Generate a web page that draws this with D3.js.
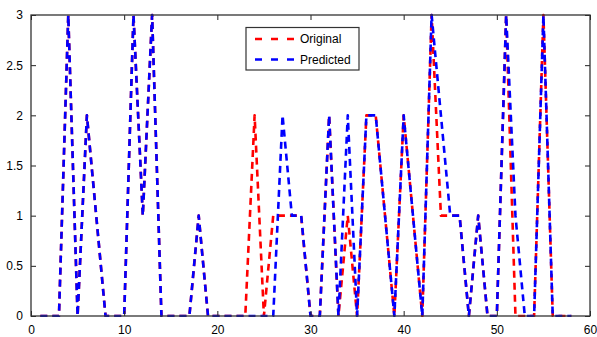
<!DOCTYPE html>
<html><head><meta charset="utf-8">
<script src="https://cdn.jsdelivr.net/npm/d3@7"></script>
<style>body{margin:0;background:#fff}svg{display:block}</style>
</head><body>
<svg id="c" width="597" height="337"></svg>
<script>
const xs = d3.range(1, 59);
const original  = [0,0,0,3,0,2,1,0,0,0,3,1,3,0,0,0,0,1,0,0,0,0,0,2,0,1,1,1,1,0,0,2,0,1,0,2,2,1,0,2,1,0,3,1,1,1,0,1,0,0,3,0,0,0,3,0,0,0];
const predicted = [0,0,0,3,0,2,1,0,0,0,3,1,3,0,0,0,0,1,0,0,0,0,0,0,0,0,2,1,1,0,0,2,0,2,0,2,2,1,0,2,1,0,3,2,1,1,0,1,0,0,3,1,0,0,3,0,0,0];
const xTicks = [0,10,20,30,40,50,60];
const yTicks = [0,0.5,1,1.5,2,2.5,3];
const seriesNames = ["Original","Predicted"];
const seriesColors = ["#ff0000","#0000ff"];

const svg = d3.select("#c");
const m = {l:31, r:590, t:15, b:316};
const x = d3.scaleLinear().domain([0,60]).range([m.l, m.r]);
const y = d3.scaleLinear().domain([0,3]).range([m.b, m.t]);
const font = "'Liberation Sans', Arial, sans-serif";

const clip = svg.append("clipPath").attr("id","clp").append("rect")
  .attr("x", m.l).attr("y", m.t-2).attr("width", m.r-m.l).attr("height", m.b-m.t+3);

const line = d3.line().x((d,i)=>x(xs[i])).y(d=>y(d));
[original, predicted].forEach((s,k)=>{
  svg.append("path").datum(s).attr("d", line)
    .attr("fill","none").attr("stroke", seriesColors[k])
    .attr("stroke-width", 2.6).attr("stroke-dasharray","7,5")
    .attr("stroke-linejoin","round")
    .attr("clip-path","url(#clp)");
});

// axes
const ax = (g)=>g.selectAll("text").attr("font-family",font).attr("font-size",12).attr("fill","#000");
svg.append("g").attr("transform",`translate(0,${m.b})`)
  .call(d3.axisBottom(x).tickValues(xTicks).tickSize(-5).tickPadding(9).tickFormat(d3.format("d")))
  .call(g=>g.select(".domain").remove()).call(ax);
svg.append("g").attr("transform",`translate(0,${m.t})`)
  .call(d3.axisTop(x).tickValues(xTicks).tickSize(-5).tickFormat(""))
  .call(g=>g.select(".domain").remove());
svg.append("g").attr("transform",`translate(${m.l},0)`)
  .call(d3.axisLeft(y).tickValues(yTicks).tickSize(-5).tickPadding(8).tickFormat(d=>String(d)))
  .call(g=>g.select(".domain").remove()).call(ax);
svg.append("g").attr("transform",`translate(${m.r},0)`)
  .call(d3.axisRight(y).tickValues(yTicks).tickSize(-5).tickFormat(""))
  .call(g=>g.select(".domain").remove());
svg.selectAll(".tick line").attr("stroke","#222");

svg.append("rect").attr("x",m.l).attr("y",m.t).attr("width",m.r-m.l).attr("height",m.b-m.t)
  .attr("fill","none").attr("stroke","#333").attr("stroke-width",1.3);

// legend
const lg = svg.append("g");
lg.append("rect").attr("x",246).attr("y",27.5).attr("width",113).attr("height",42.5)
  .attr("fill","#fff").attr("stroke","#333").attr("stroke-width",1.2);
seriesNames.forEach((n,k)=>{
  const yy = 39 + k*20.5;
  lg.append("line").attr("x1",255).attr("x2",298).attr("y1",yy).attr("y2",yy)
    .attr("stroke",seriesColors[k]).attr("stroke-width",2.6).attr("stroke-dasharray","7,9");
  lg.append("text").attr("x",300).attr("y",yy+4.2).text(n)
    .attr("font-family",font).attr("font-size",12).attr("fill","#000");
});
</script>
</body></html>
